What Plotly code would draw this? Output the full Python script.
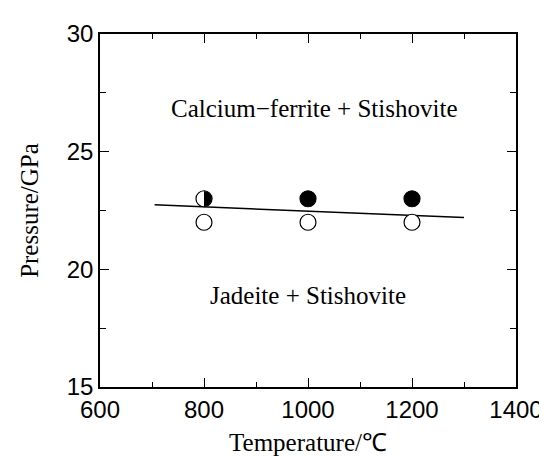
import numpy as np
import plotly.graph_objects as go

# ---- data ----
boundary_T = [705, 1300]
boundary_P = [22.74, 22.2]

filled_T = [1000, 1200]
filled_P = [23, 23]

open_T = [800, 1000, 1200]
open_P = [22, 22, 22]

half_T = [800]
half_P = [23]

region_labels = ["Calcium\u2212ferrite + Stishovite", "Jadeite + Stishovite"]
region_T = [1011, 1000]
region_P = [26.85, 18.9]

x_range = [600, 1400]
y_range = [15, 30]
x_ticks = [600, 800, 1000, 1200, 1400]
y_ticks = [15, 20, 25, 30]

# ---- layout geometry ----
W, H = 547, 456
ml, mr, mt, mb = 92, 30, 22, 64
pw, ph = W - ml - mr, H - mt - mb
msize = 16

fig = go.Figure()

fig.add_trace(go.Scatter(x=boundary_T, y=boundary_P, mode="lines",
                         line=dict(color="black", width=1.5), showlegend=False,
                         hoverinfo="skip"))

fig.add_trace(go.Scatter(x=open_T + half_T, y=open_P + half_P, mode="markers",
                         marker=dict(symbol="circle", size=msize, color="white",
                                     line=dict(color="black", width=1.2)),
                         showlegend=False))

fig.add_trace(go.Scatter(x=filled_T, y=filled_P, mode="markers",
                         marker=dict(symbol="circle", size=msize, color="black",
                                     line=dict(color="black", width=1.2)),
                         showlegend=False))

# right-half filled semicircle for the half-filled point
rx = (msize / 2) * (x_range[1] - x_range[0]) / pw
ry = (msize / 2) * (y_range[1] - y_range[0]) / ph
ang = np.linspace(-np.pi / 2, np.pi / 2, 40)
for cx, cy in zip(half_T, half_P):
    fig.add_trace(go.Scatter(x=cx + rx * np.cos(ang), y=cy + ry * np.sin(ang),
                             mode="lines", fill="toself", fillcolor="black",
                             line=dict(color="black", width=0.5),
                             showlegend=False, hoverinfo="skip"))

for txt, tx, ty in zip(region_labels, region_T, region_P):
    fig.add_annotation(x=tx, y=ty, text=txt, showarrow=False,
                       font=dict(family="Liberation Serif", size=25, color="black"))

axis_common = dict(showgrid=False, zeroline=False, showline=True, linecolor="black",
                   linewidth=1.5, mirror="allticks", ticks="inside", ticklen=9,
                   tickwidth=1.3, tickcolor="black",
                   tickfont=dict(family="Liberation Sans", size=24, color="black"))

fig.update_xaxes(range=x_range, tickvals=x_ticks,
                 minor=dict(ticks="inside", dtick=100, ticklen=5, tickwidth=1.1, tickcolor="black"),
                 title=dict(text="Temperature/\u2103", standoff=12,
                            font=dict(family="Liberation Serif", size=25, color="black")),
                 **axis_common)
fig.update_yaxes(range=y_range, tickvals=y_ticks,
                 minor=dict(ticks="inside", dtick=2.5, ticklen=6, tickwidth=1.1, tickcolor="black"),
                 title=dict(text="Pressure/GPa", standoff=21,
                            font=dict(family="Liberation Serif", size=25, color="black")),
                 **axis_common)

fig.update_layout(width=W, height=H, margin=dict(l=ml, r=mr, t=mt, b=mb),
                  plot_bgcolor="white", paper_bgcolor="white")

fig.write_html("out.html")
